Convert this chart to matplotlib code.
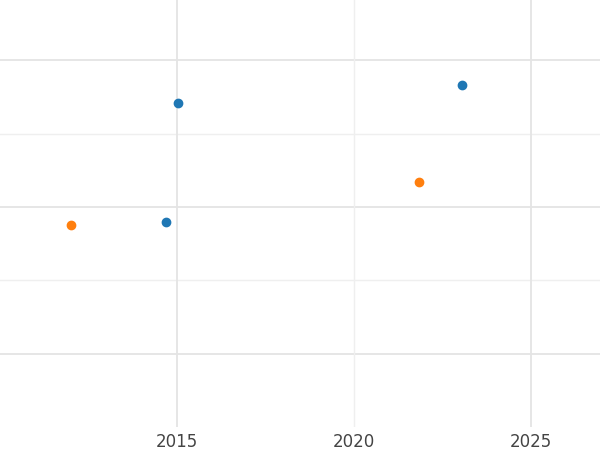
import matplotlib.pyplot as plt

blue_x = [2015.03, 2014.69, 2023.05]
blue_y = [4.41, 2.79, 4.66]
orange_x = [2012.0, 2021.84]
orange_y = [2.75, 3.34]
xticks = [2015, 2020, 2025]

fig = plt.figure(figsize=(6, 4.5), dpi=100)
ax = fig.add_axes([0, 0.051, 1, 0.949])
ax.set_xlim(2010, 2026.95)
ax.set_ylim(0, 5.82)

for y in [1, 3, 5]:
    ax.axhline(y, color="#e4e4e4", lw=1.3, zorder=0)
for y in [2, 4]:
    ax.axhline(y, color="#efefef", lw=1, zorder=0)
for x in [2015, 2025]:
    ax.axvline(x, color="#e4e4e4", lw=1.3, zorder=0)
ax.axvline(2020, color="#efefef", lw=1, zorder=0)

ax.scatter(blue_x, blue_y, color="#1f77b4", s=36, zorder=3)
ax.scatter(orange_x, orange_y, color="#ff7f0e", s=36, zorder=3)

ax.set_xticks(xticks)
ax.set_xticklabels([str(t) for t in xticks], fontsize=12, color="#444444")
ax.set_yticks([])
ax.tick_params(axis="x", length=0, pad=4)
for s in ax.spines.values():
    s.set_visible(False)

fig.savefig("out.png", dpi=100)
